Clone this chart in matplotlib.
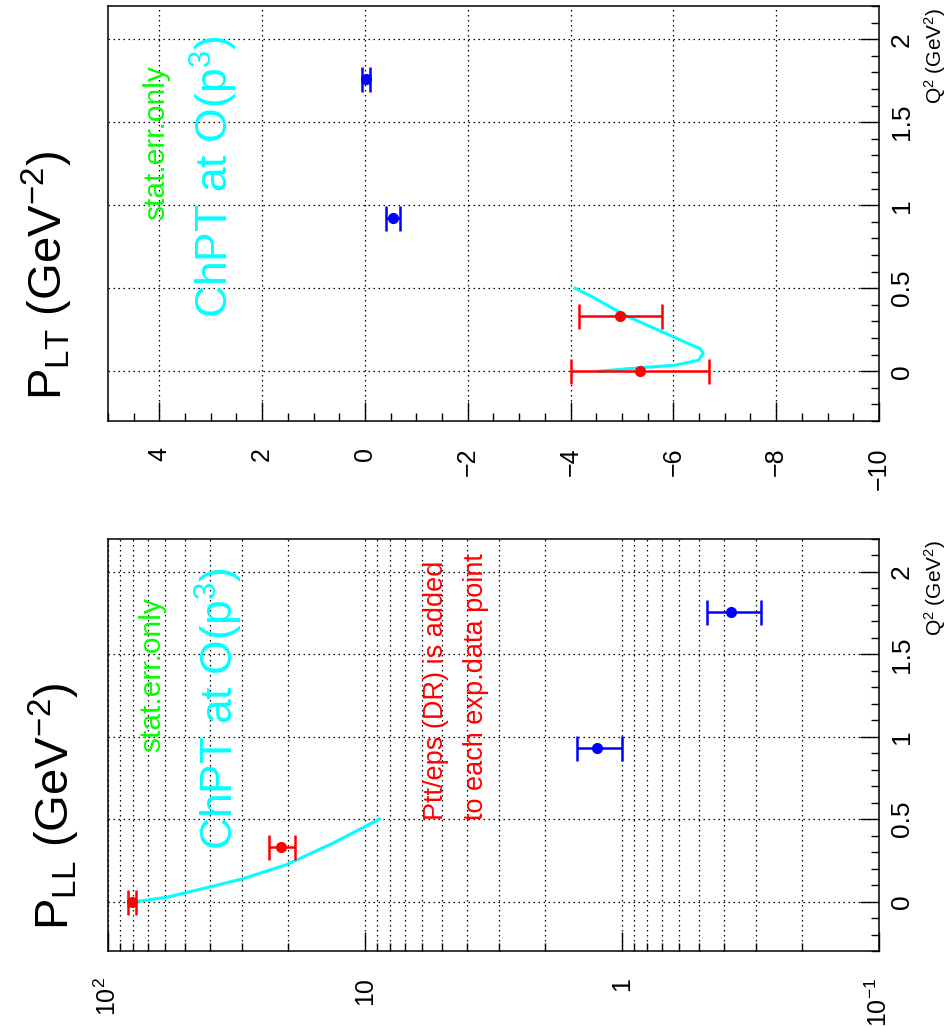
import matplotlib
matplotlib.use('Agg')
import matplotlib.pyplot as plt
from matplotlib.ticker import FixedLocator, FixedFormatter, MultipleLocator

plt.rcParams['font.family'] = ['Liberation Sans', 'DejaVu Sans']
plt.rcParams['mathtext.fontset'] = 'custom'
plt.rcParams['mathtext.rm'] = 'Liberation Sans'
plt.rcParams['mathtext.it'] = 'Liberation Sans:italic'

# P_LT data (Q^2 in GeV^2, P_LT in GeV^-2)
q_lt_red = [0.0, 0.33]
p_lt_red = [-5.35, -4.97]
p_lt_red_err = [1.34, 0.80]
q_lt_blue = [0.92, 1.76]
p_lt_blue = [-0.54, -0.02]
p_lt_blue_err = [0.14, 0.07]
q_lt_chpt = [0.0, 0.02, 0.036, 0.066, 0.107, 0.137, 0.157, 0.247, 0.337, 0.438, 0.5]
p_lt_chpt = [-4.55, -5.32, -6.03, -6.49, -6.58, -6.52, -6.36, -5.71, -5.06, -4.48, -4.09]

# P_LL data
q_ll_red = [0.0, 0.33]
p_ll_red = [80.7, 21.2]
p_ll_red_err = [3.0, 2.4]
q_ll_blue = [0.93, 1.76]
p_ll_blue = [1.25, 0.377]
p_ll_blue_err = [0.25, 0.09]
q_ll_chpt = [0.0, 0.026, 0.089, 0.139, 0.224, 0.355, 0.5]
p_ll_chpt = [77.5, 59.1, 40.1, 29.8, 20.2, 13.3, 8.8]

q_ticks = [0, 0.5, 1, 1.5, 2]
q_labels = ['0', '0.5', '1', '1.5', '2']
lt_ticks = [4, 2, 0, -2, -4, -6, -8, -10]
ll_ticks = [100, 10, 1, 0.1]
ll_labels = [r'$10^{2}$', '10', '1', r'$10^{-1}$']

W, H = 951, 1026
fig = plt.figure(figsize=(W / 100, H / 100), dpi=100)


def fx(x):
    return x / W


def fy(y):
    return 1 - y / H


ax_lt = fig.add_axes([fx(108), fy(421), 771 / W, 415 / H])
ax_ll = fig.add_axes([fx(108), fy(951), 771 / W, 412 / H])

ebar = dict(fmt='o', ms=7, capsize=9, elinewidth=1.8, capthick=1.8, zorder=4)
grid = dict(color='black', linestyle=(0, (1.2, 2.8)), linewidth=0.9)

# the picture is turned by 90 degrees: Q^2 runs upwards, P runs right-to-left
ax_lt.plot(p_lt_chpt, q_lt_chpt, color='#00ffff', lw=2.2, zorder=3)
ax_lt.errorbar(p_lt_red, q_lt_red, xerr=p_lt_red_err, color='red', **ebar)
ax_lt.errorbar(p_lt_blue, q_lt_blue, xerr=p_lt_blue_err, color='blue', **ebar)
ax_lt.set_xlim(5, -10)
ax_lt.xaxis.set_major_locator(FixedLocator(lt_ticks))
ax_lt.xaxis.set_minor_locator(MultipleLocator(0.5))

ax_ll.plot(p_ll_chpt, q_ll_chpt, color='#00ffff', lw=2.2, zorder=3)
ax_ll.errorbar(p_ll_red, q_ll_red, xerr=p_ll_red_err, color='red', **ebar)
ax_ll.errorbar(p_ll_blue, q_ll_blue, xerr=p_ll_blue_err, color='blue', **ebar)
ax_ll.set_xscale('log')
ax_ll.set_xlim(100, 0.1)
ax_ll.xaxis.set_major_locator(FixedLocator(ll_ticks))
ax_ll.xaxis.set_major_formatter(FixedFormatter(ll_labels))
ax_ll.xaxis.set_minor_locator(FixedLocator([m * d for d in [0.1, 1, 10] for m in range(2, 10)]))
ax_ll.xaxis.set_minor_formatter(FixedFormatter([]))
ax_ll.grid(True, which='minor', axis='x', **grid)

for ax in (ax_lt, ax_ll):
    ax.set_ylim(-0.3, 2.2)
    ax.yaxis.set_major_locator(FixedLocator(q_ticks))
    ax.yaxis.set_major_formatter(FixedFormatter(q_labels))
    ax.yaxis.set_minor_locator(MultipleLocator(0.1))
    ax.grid(True, which='major', **grid)
    ax.set_axisbelow(True)
    for s in ax.spines.values():
        s.set_linewidth(1.1)
    ax.tick_params(axis='x', which='both', direction='in', bottom=True, top=False,
                   labelrotation=90, labelsize=18, pad=19, width=1)
    ax.tick_params(axis='x', which='major', length=13.5)
    ax.tick_params(axis='x', which='minor', length=6)
    ax.tick_params(axis='y', which='both', direction='in', left=False, right=True,
                   labelleft=False, labelright=True, labelrotation=90, labelsize=19,
                   pad=8, width=1)
    ax.tick_params(axis='y', which='major', length=13.5)
    ax.tick_params(axis='y', which='minor', length=6)
    plt.setp(ax.get_yticklabels(), va='center')

# titles and notes, all turned by 90 degrees like the plot
fig.text(fx(20), fy(400), r'P$_{\rm LT}$ (GeV$^{-2}$)', fontsize=34, rotation=90,
         ha='left', va='bottom')
fig.text(fx(27), fy(930), r'P$_{\rm LL}$ (GeV$^{-2}$)', fontsize=34, rotation=90,
         ha='left', va='bottom')

fig.text(fx(142), fy(220), 'stat.err.only', color='#00ff00', fontsize=21.5, rotation=90,
         ha='left', va='bottom')
fig.text(fx(138), fy(752), 'stat.err.only', color='#00ff00', fontsize=21.5, rotation=90,
         ha='left', va='bottom')
fig.text(fx(188), fy(318), r'ChPT at O(p$^{3}$)', color='#00ffff', fontsize=32,
         rotation=90, ha='left', va='bottom')
fig.text(fx(193), fy(850), r'ChPT at O(p$^{3}$)', color='#00ffff', fontsize=32,
         rotation=90, ha='left', va='bottom')

fig.text(fx(423), fy(820), 'Ptt/eps (DR) is added', color='red', fontsize=19.5,
         rotation=90, ha='left', va='bottom')
fig.text(fx(463), fy(820), 'to each exp.data point', color='red', fontsize=19.5,
         rotation=90, ha='left', va='bottom')

fig.text(fx(922), fy(8), r'Q$^{2}$ (GeV$^{2}$)', fontsize=15, rotation=90,
         ha='left', va='top')
fig.text(fx(922), fy(540), r'Q$^{2}$ (GeV$^{2}$)', fontsize=15, rotation=90,
         ha='left', va='top')

fig.savefig('out.png', dpi=100)
